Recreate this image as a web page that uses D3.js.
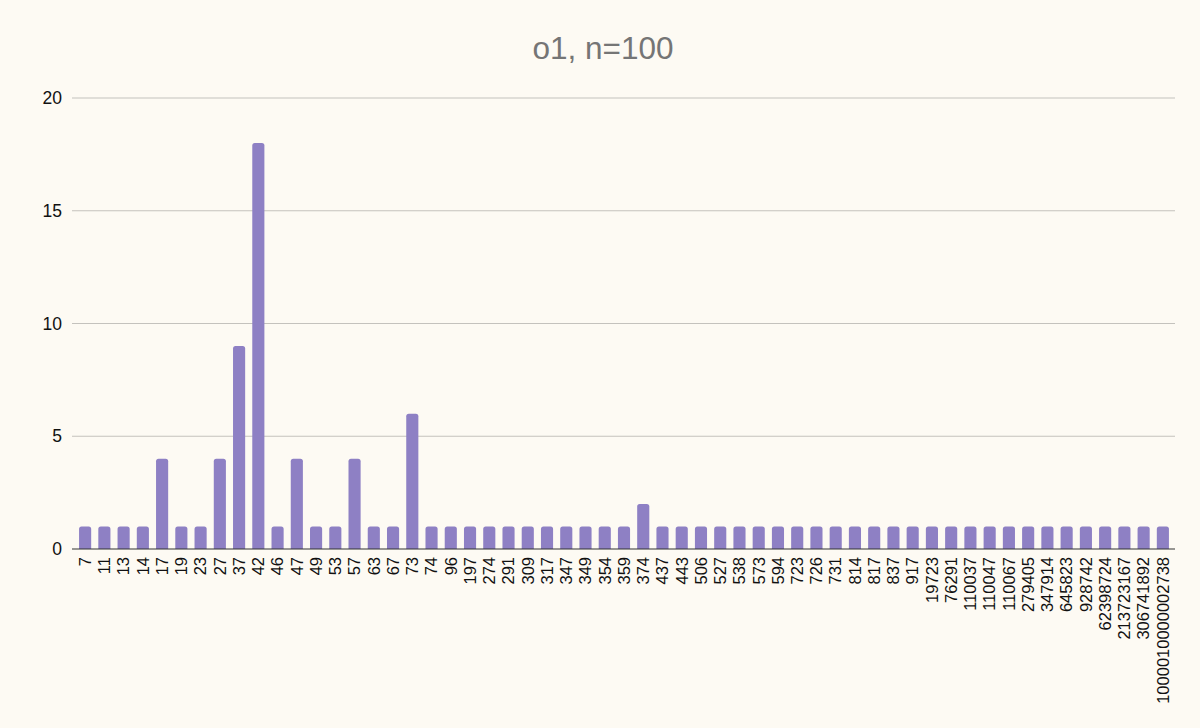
<!DOCTYPE html>
<html lang="en">
<head>
    <meta charset="UTF-8">
    <title>o1, n=100</title>
    <script src="https://d3js.org/d3.v7.min.js"></script>
    <style>
        body {
            margin: 0;
            background-color: #fdfaf3;
            font-family: "Liberation Sans", Arial, sans-serif;
        }
    </style>
</head>
<body>
    <svg id="chart" width="1200" height="728"></svg>
    <script>
        let categories = ["7", "11", "13", "14", "17", "19", "23", "27", "37", "42", "46", "47", "49", "53", "57", "63", "67", "73",
            "74", "96", "197", "274", "291", "309", "317", "347", "349", "354", "359", "374", "437", "443", "506", "527", "538",
            "573", "594", "723", "726", "731", "814", "817", "837", "917", "19723", "76291", "110037", "110047", "110067",
            "279405", "347914", "645823", "928742", "62398724", "213723167", "306741892", "1000010000002738"]
        let counts = [1, 1, 1, 1, 4, 1, 1, 4, 9, 18, 1, 4, 1, 1, 4, 1, 1, 6,
            1, 1, 1, 1, 1, 1, 1, 1, 1, 1, 1, 2, 1, 1, 1, 1, 1,
            1, 1, 1, 1, 1, 1, 1, 1, 1, 1, 1, 1, 1, 1,
            1, 1, 1, 1, 1, 1, 1, 1]
        let yTicks = [0, 5, 10, 15, 20]

        let barColor = "#8e80c4"
        let svg = d3.select("#chart")

        let x = d3.scaleBand()
            .domain(categories)
            .range([75.5, 1172.5])
            .paddingInner(0.37)
            .paddingOuter(0.185)
        let y = d3.scaleLinear()
            .domain([0, 20])
            .range([549, 98])

        // title
        svg.append("text")
            .attr("x", 603)
            .attr("y", 59)
            .attr("text-anchor", "middle")
            .attr("fill", "#757575")
            .style("font-size", "31.5px")
            .text("o1, n=100")

        // gridlines + y labels
        let grid = svg.append("g")
        grid.selectAll("line")
            .data(yTicks.filter(d => d > 0))
            .enter()
            .append("line")
            .attr("x1", 72).attr("x2", 1175)
            .attr("y1", d => y(d)).attr("y2", d => y(d))
            .attr("stroke", "#c4c2bd")
            .attr("stroke-width", 1.2)
        grid.selectAll("text")
            .data(yTicks)
            .enter()
            .append("text")
            .attr("x", 62)
            .attr("y", d => y(d))
            .attr("dy", "0.35em")
            .attr("text-anchor", "end")
            .attr("fill", "#111")
            .style("font-size", "17.5px")
            .text(d => d)

        // bars, rounded on top
        let r = 2.5
        svg.append("g").selectAll("path")
            .data(categories.map((c, i) => ({ c: c, v: counts[i] })))
            .enter()
            .append("path")
            .attr("fill", barColor)
            .attr("d", function (d) {
                let x0 = x(d.c), w = x.bandwidth(), y0 = y(d.v), yb = y(0)
                return `M${x0},${yb} L${x0},${y0 + r} Q${x0},${y0} ${x0 + r},${y0} L${x0 + w - r},${y0} Q${x0 + w},${y0} ${x0 + w},${y0 + r} L${x0 + w},${yb} Z`
            })

        // baseline
        svg.append("line")
            .attr("x1", 72).attr("x2", 1175)
            .attr("y1", y(0)).attr("y2", y(0))
            .attr("stroke", "#333")
            .attr("stroke-width", 1.2)

        // x labels rotated
        svg.append("g").selectAll("text")
            .data(categories)
            .enter()
            .append("text")
            .attr("transform", d => `translate(${x(d) + x.bandwidth() / 2},557) rotate(-90)`)
            .attr("dy", "0.35em")
            .attr("text-anchor", "end")
            .attr("fill", "#111")
            .style("font-size", "16.5px")
            .text(d => d)
    </script>
</body>
</html>
